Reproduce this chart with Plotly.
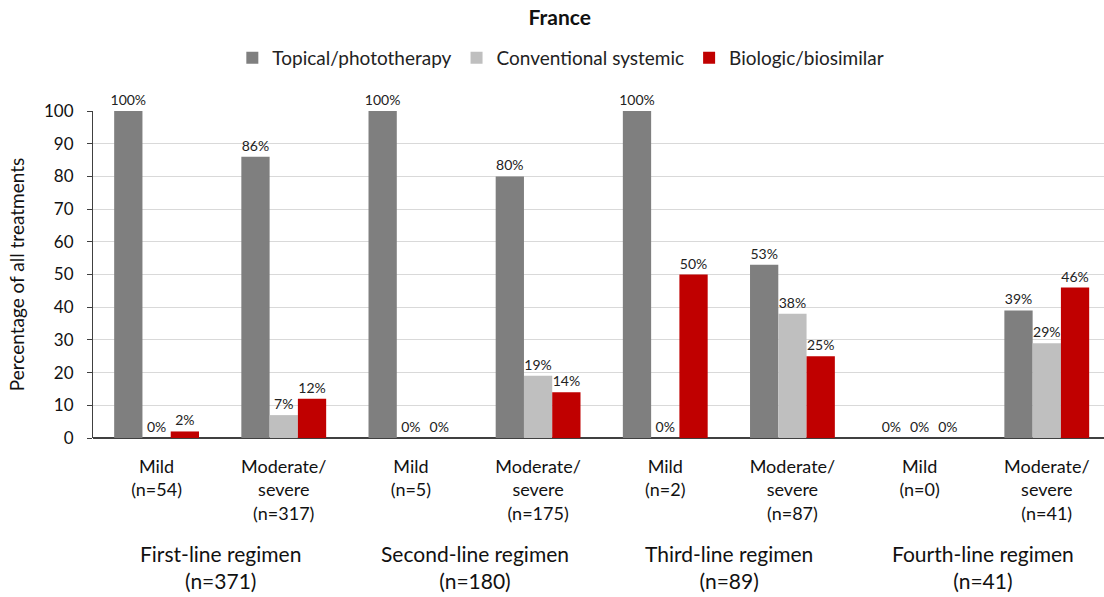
import plotly.graph_objects as go

categories = ["Mild<br>(n=54)", "Moderate/<br>severe<br>(n=317)",
              "Mild<br>(n=5)", "Moderate/<br>severe<br>(n=175)",
              "Mild<br>(n=2)", "Moderate/<br>severe<br>(n=87)",
              "Mild<br>(n=0)", "Moderate/<br>severe<br>(n=41)"]
groups = ["First-line regimen<br>(n=371)", "Second-line regimen<br>(n=180)",
          "Third-line regimen<br>(n=89)", "Fourth-line regimen<br>(n=41)"]
topical = [100, 86, 100, 80, 100, 53, 0, 39]
conventional = [0, 7, 0, 19, 0, 38, 0, 29]
biologic = [2, 12, 0, 14, 50, 25, 0, 46]
yticks = [0, 10, 20, 30, 40, 50, 60, 70, 80, 90, 100]

FONT = "Lato"
x = list(range(len(categories)))

fig = go.Figure()
for name, vals, col in [("Topical/phototherapy", topical, "#7F7F7F"),
                        ("Conventional systemic", conventional, "#BFBFBF"),
                        ("Biologic/biosimilar", biologic, "#C00000")]:
    fig.add_trace(go.Bar(
        x=x, y=vals, name=name, marker_color=col, marker_line_width=0,
        text=[f"{v}%" for v in vals], textposition="outside",
        constraintext="none",
        textfont=dict(family=FONT, size=14, color="#222222"),
        cliponaxis=False,
    ))

for i, g in enumerate(groups):
    fig.add_annotation(x=2 * i + 0.5, xref="x", y=-0.308, yref="paper",
                       text=g, showarrow=False, yanchor="top",
                       font=dict(family=FONT, size=21, color="#111111"))

fig.update_layout(
    width=1104, height=597,
    margin=dict(l=93, r=0, t=111, b=159, autoexpand=False),
    paper_bgcolor="white", plot_bgcolor="white",
    barmode="group", bargap=0.333, bargroupgap=0,
    font=dict(family=FONT, color="#111111"),
    title=dict(text="<b>France</b>", x=0.507, xref="container", xanchor="center",
               y=1 - 18 / 597, yref="container", yanchor="middle",
               font=dict(family=FONT, size=21, color="#111111")),
    legend=dict(orientation="h", x=0.508, xref="container", xanchor="center",
                y=1 - 58 / 597, yref="container", yanchor="middle",
                font=dict(family=FONT, size=19, color="#222222"),
                itemwidth=30, traceorder="normal"),
    xaxis=dict(range=[-0.5, 7.45], tickmode="array", tickvals=x,
               ticktext=categories, showgrid=False, ticks="",
               ticklabelstandoff=16,
               tickfont=dict(family=FONT, size=18, color="#111111"),
               showline=False, zeroline=False),
    yaxis=dict(range=[0, 100], tickmode="array", tickvals=yticks,
               showgrid=True, gridcolor="#D9D9D9", gridwidth=1,
               showline=True, linecolor="#404040", linewidth=1,
               ticks="outside", ticklen=5, tickcolor="#404040",
               ticklabelstandoff=10,
               tickfont=dict(family=FONT, size=17, color="#111111"),
               zeroline=True, zerolinecolor="#404040", zerolinewidth=1.5,
               title=dict(text="Percentage of all treatments", standoff=14,
                          font=dict(family=FONT, size=19, color="#111111"))),
)

fig.write_html("out.html",
               config={"displayModeBar": False},
               post_script="document.body.style.margin='0';"
                           "document.body.style.overflow='hidden';")
